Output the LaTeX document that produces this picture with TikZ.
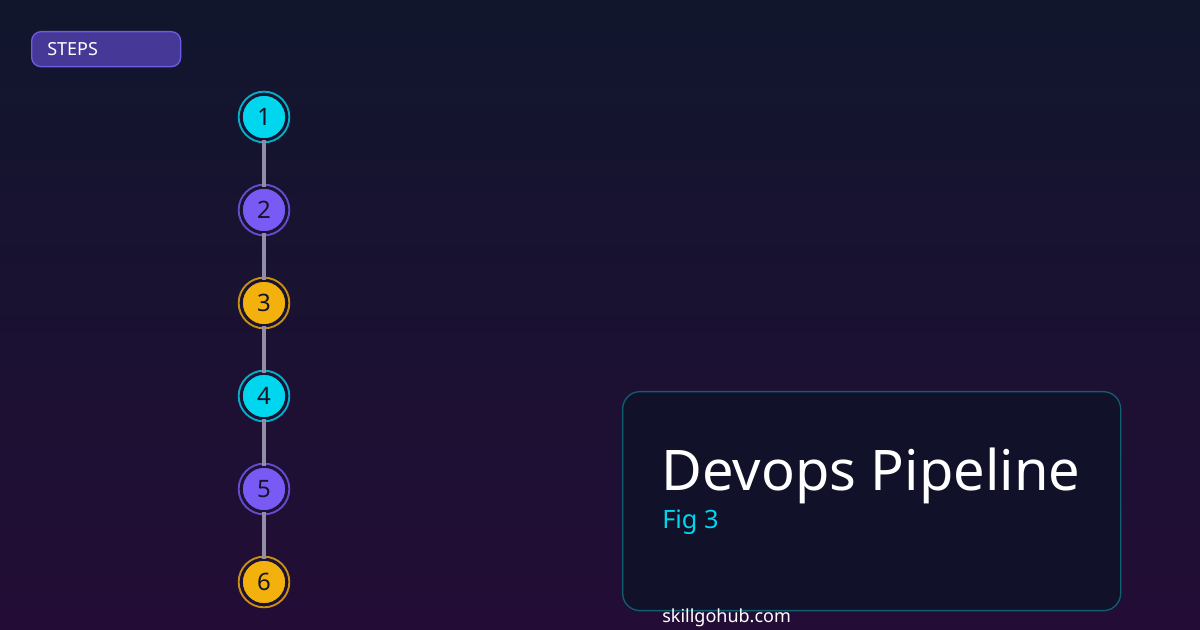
\documentclass[tikz,border=0pt]{standalone}
\usepackage{fontspec}
\setmainfont{Noto Sans}
\definecolor{bgtop}{HTML}{11162D}
\definecolor{bgbot}{HTML}{230D36}
\definecolor{stepcyan}{HTML}{00D6EE}
\definecolor{steppurple}{HTML}{7A5AF5}
\definecolor{stepamber}{HTML}{F2B10C}
\definecolor{ringdark}{HTML}{1A1535}
\definecolor{digitdark}{HTML}{14142A}
\definecolor{linkgray}{HTML}{918DA6}
\definecolor{tagfill}{HTML}{463896}
\definecolor{tagedge}{HTML}{6D5BE3}
\definecolor{cardfill}{HTML}{111129}
\definecolor{cardedge}{HTML}{0F5E72}
\begin{document}
\begin{tikzpicture}
[x=0.75pt,y=-0.75pt,
  stepdecorate/.style={shape=circle,minimum size=33pt,inner sep=0pt,
    draw=ringdark,line width=1.2pt,text=digitdark,
    font=\fontsize{18}{20}\selectfont},%
  ringdecorate/.style={line width=1.4pt,opacity=0.8},%
  linedecorate/.style={-,draw=linkgray,line width=2.3pt}]
%% background
\shade[top color=bgtop,bottom color=bgbot] (0,0) rectangle (1200,630);
%% tag
\node (tag) at (31,31) [anchor=north west,draw=tagedge,fill=tagfill,
  line width=1pt,rounded corners=7pt,minimum width=111.75pt,
  minimum height=26.25pt] {};
\node (tagtext) at (47,49) [anchor=west,text=white,inner sep=0pt,
  font=\fontsize{13.5}{15}\selectfont] {STEPS};
%% nodes or steps
\foreach \nodename/\y/\shade in {1/117/stepcyan, 2/210/steppurple,
  3/303/stepamber, 4/396/stepcyan, 5/489/steppurple, 6/582/stepamber} {
  \node (s\nodename) at (264,\y) [stepdecorate,fill=\shade] {\nodename};
  \draw [ringdecorate,\shade] (s\nodename.center) circle [radius=19pt];
}
%% edges or links
\path
\foreach \startnode/\endnode in {1/2, 2/3, 3/4, 4/5, 5/6} {
  (s\startnode) edge[linedecorate] (s\endnode)
};
%% card
\node (card) at (622,391) [anchor=north west,draw=cardedge,fill=cardfill,
  line width=1pt,rounded corners=13pt,minimum width=373.5pt,
  minimum height=164.25pt] {};
\node (title) at (661,491) [anchor=base west,text=white,inner sep=0pt,
  font=\fontsize{42}{48}\selectfont] {Devops Pipeline};
\node (fig) at (662,529) [anchor=base west,text=stepcyan,inner sep=0pt,
  font=\fontsize{19}{22}\selectfont] {Fig 3};
\node (site) at (662,623) [anchor=base west,text=white,inner sep=0pt,
  font=\fontsize{13.5}{15}\selectfont] {skillgohub.com};
\end{tikzpicture}
\end{document}
